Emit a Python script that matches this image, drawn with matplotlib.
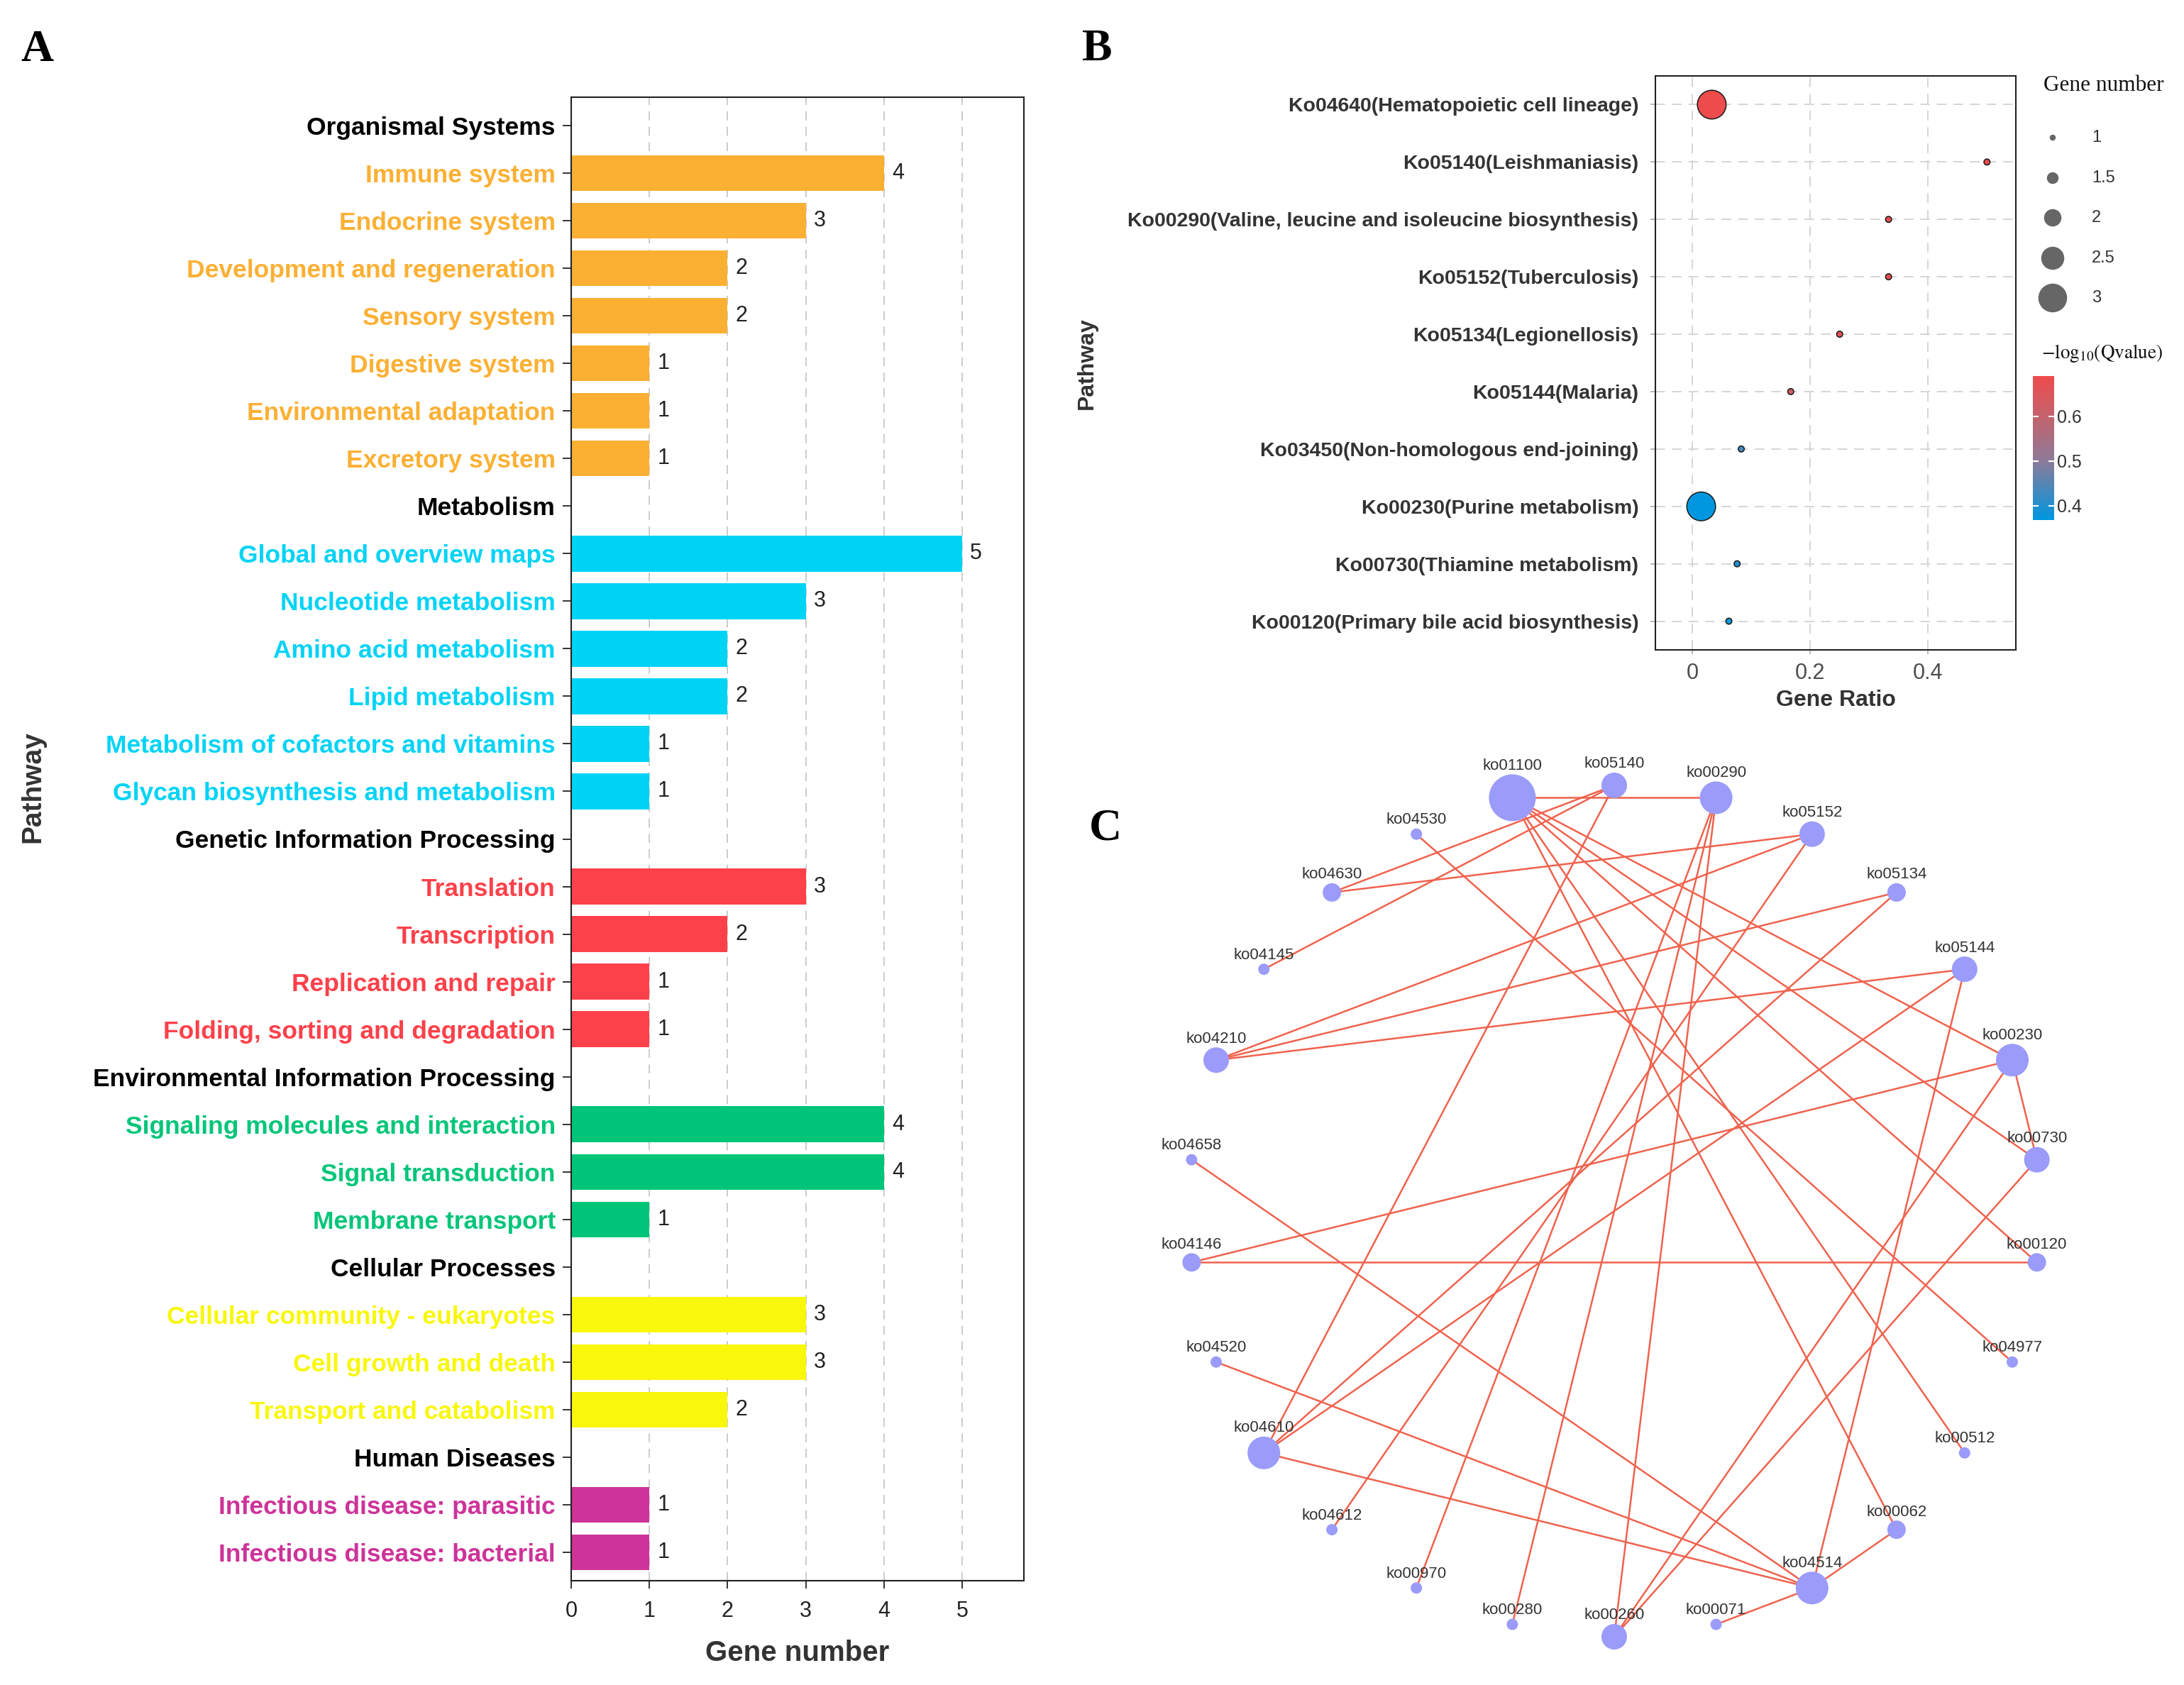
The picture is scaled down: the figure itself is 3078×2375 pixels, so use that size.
import matplotlib
matplotlib.use('Agg')
import matplotlib.pyplot as plt
import numpy as np
from matplotlib.colors import LinearSegmentedColormap, Normalize

plt.rcParams['font.family'] = ['Liberation Sans', 'DejaVu Sans']
plt.rcParams['mathtext.fontset'] = 'stix'

# ------------------------------------------------------------------ data A
group_names = ['Organismal Systems', 'Metabolism', 'Genetic Information Processing',
               'Environmental Information Processing', 'Cellular Processes', 'Human Diseases']
group_colors = ['#FBB034', '#00D3F6', '#FD414A', '#00C579', '#F8F70C', '#CD3399']
organismal_terms = ['Immune system', 'Endocrine system', 'Development and regeneration',
                    'Sensory system', 'Digestive system', 'Environmental adaptation',
                    'Excretory system']
organismal_counts = [4, 3, 2, 2, 1, 1, 1]
metabolism_terms = ['Global and overview maps', 'Nucleotide metabolism', 'Amino acid metabolism',
                    'Lipid metabolism', 'Metabolism of cofactors and vitamins',
                    'Glycan biosynthesis and metabolism']
metabolism_counts = [5, 3, 2, 2, 1, 1]
genetic_terms = ['Translation', 'Transcription', 'Replication and repair',
                 'Folding, sorting and degradation']
genetic_counts = [3, 2, 1, 1]
env_terms = ['Signaling molecules and interaction', 'Signal transduction', 'Membrane transport']
env_counts = [4, 4, 1]
cellular_terms = ['Cellular community - eukaryotes', 'Cell growth and death',
                  'Transport and catabolism']
cellular_counts = [3, 3, 2]
disease_terms = ['Infectious disease: parasitic', 'Infectious disease: bacterial']
disease_counts = [1, 1]
group_terms = [organismal_terms, metabolism_terms, genetic_terms, env_terms, cellular_terms, disease_terms]
group_counts = [organismal_counts, metabolism_counts, genetic_counts, env_counts, cellular_counts, disease_counts]
xticks_A = [0, 1, 2, 3, 4, 5]

# ------------------------------------------------------------------ data B
pathways_B = ['Ko04640(Hematopoietic cell lineage)', 'Ko05140(Leishmaniasis)',
              'Ko00290(Valine, leucine and isoleucine biosynthesis)', 'Ko05152(Tuberculosis)',
              'Ko05134(Legionellosis)', 'Ko05144(Malaria)', 'Ko03450(Non-homologous end-joining)',
              'Ko00230(Purine metabolism)', 'Ko00730(Thiamine metabolism)',
              'Ko00120(Primary bile acid biosynthesis)']
gene_ratio = [0.033, 0.5, 0.333, 0.333, 0.25, 0.167, 0.083, 0.015, 0.076, 0.062]
gene_number = [3, 1, 1, 1, 1, 1, 1, 3, 1, 1]
neglog_q = [0.69, 0.69, 0.68, 0.68, 0.665, 0.625, 0.43, 0.37, 0.40, 0.38]
q_range = [0.368, 0.69]
q_ticks = [0.4, 0.5, 0.6]
size_legend = [1, 1.5, 2, 2.5, 3]
xticks_B = [0, 0.2, 0.4]

# ------------------------------------------------------------------ data C
node_names = ['ko05140', 'ko00290', 'ko05152', 'ko05134', 'ko05144', 'ko00230', 'ko00730',
              'ko00120', 'ko04977', 'ko00512', 'ko00062', 'ko04514', 'ko00071', 'ko00260',
              'ko00280', 'ko00970', 'ko04612', 'ko04610', 'ko04520', 'ko04146', 'ko04658',
              'ko04210', 'ko04145', 'ko04630', 'ko04530', 'ko01100']
node_weight = [3, 4, 3, 2, 3, 4, 3, 2, 1, 1, 2, 4, 1, 3, 1, 1, 1, 4, 1, 2, 1, 3, 1, 2, 1, 6]
edges = [('ko01100', 'ko00290'), ('ko01100', 'ko00230'), ('ko01100', 'ko00730'),
         ('ko01100', 'ko00120'), ('ko01100', 'ko00512'), ('ko01100', 'ko00062'),
         ('ko05140', 'ko04630'), ('ko05140', 'ko04145'), ('ko05140', 'ko04610'),
         ('ko00290', 'ko00970'), ('ko00290', 'ko00280'), ('ko00290', 'ko00260'),
         ('ko05152', 'ko04630'), ('ko05152', 'ko04210'), ('ko05152', 'ko04612'),
         ('ko05134', 'ko04210'), ('ko05134', 'ko04610'),
         ('ko05144', 'ko04210'), ('ko05144', 'ko04610'), ('ko05144', 'ko04514'),
         ('ko00230', 'ko04146'), ('ko00230', 'ko00730'), ('ko00230', 'ko00260'),
         ('ko00730', 'ko00260'), ('ko00120', 'ko04146'), ('ko04530', 'ko04977'),
         ('ko04514', 'ko00062'), ('ko04514', 'ko00071'), ('ko04514', 'ko04610'),
         ('ko04514', 'ko04520'), ('ko04514', 'ko04658')]

# ------------------------------------------------------------------ figure
W, H, DPI = 3078, 2375, 100
fig = plt.figure(figsize=(W / DPI, H / DPI), dpi=DPI)
fig.patch.set_facecolor('white')

def fx(px):
    return px / W

def fy(py):
    return 1 - py / H

# overlay axes in pixel coordinates (panel letters, network)
ov = fig.add_axes([0, 0, 1, 1])
ov.set_xlim(0, W)
ov.set_ylim(H, 0)
ov.axis('off')

serif = ['Liberation Serif', 'DejaVu Serif']
for letter, (lx, ly) in zip(['A', 'B', 'C'], [(29, 86), (1525, 85), (1535, 1184)]):
    ov.text(lx, ly, letter, fontsize=46, fontweight='bold', family=serif,
            ha='left', va='baseline')

# ------------------------------------------------------------------ panel A
axA = fig.add_axes([fx(805), fy(2228), fx(1443 - 805), (2228 - 137) / H])
labels, values, colors, lab_colors = [], [], [], []
for gname, gcol, terms, counts in zip(group_names, group_colors, group_terms, group_counts):
    labels.append(gname); values.append(np.nan); colors.append(gcol); lab_colors.append('black')
    for t, c in zip(terms, counts):
        labels.append(t); values.append(c); colors.append(gcol); lab_colors.append(gcol)
pos = np.arange(len(labels))
vals = np.array(values, dtype=float)
for x in xticks_A[1:]:
    axA.axvline(x, color='#C8C8C8', lw=1.3, dashes=(7, 5), zorder=0)
axA.barh(pos, np.nan_to_num(vals), height=0.75, color=colors, zorder=2)
for p, v in zip(pos, vals):
    if not np.isnan(v):
        axA.annotate(f'{int(v)}', (v, p), xytext=(8, 0), textcoords='offset points',
                     ha='left', va='center', fontsize=22, color='#222222')
axA.set_ylim(len(labels) - 0.4, -0.6)
axA.set_xlim(0, 5.79)
axA.set_xticks(xticks_A)
axA.set_yticks(pos)
axA.set_yticklabels(labels, fontsize=25.5, fontweight='bold')
for tl, c in zip(axA.get_yticklabels(), lab_colors):
    tl.set_color(c)
axA.tick_params(axis='y', length=9, width=1.4, color='#333333', pad=7)
axA.tick_params(axis='x', length=8, width=1.4, color='#333333', pad=12, labelsize=22,
                labelcolor='#222222')
for s in axA.spines.values():
    s.set_linewidth(1.5)
    s.set_color('#222222')
axA.set_xlabel('Gene number', fontsize=29, fontweight='bold', color='#333333')
axA.xaxis.label.set_va('center')
axA.xaxis.set_label_coords(0.5, (2228 - 2330) / (2228 - 137))
axA.set_ylabel('Pathway', fontsize=28, fontweight='bold', color='#333333')
axA.yaxis.label.set_va('center')
axA.yaxis.set_label_coords((46 - 805) / (1443 - 805), (2228 - 1109) / (2228 - 137))

# ------------------------------------------------------------------ panel B
axB = fig.add_axes([fx(2333), fy(916), fx(2841 - 2333), (916 - 107) / H])
cmap = LinearSegmentedColormap.from_list(
    'q', [(0.0, '#0096E1'), (0.41, '#8C7B98'), (0.72, '#C4636E'), (1.0, '#EE4B4C')])
norm = Normalize(vmin=q_range[0], vmax=q_range[1])

def size_pts(v):
    d = 8.5 + 16.0 * (np.asarray(v, dtype=float) - 1)  # pixel diameter
    return (d * 72 / DPI) ** 2

yb = np.arange(len(pathways_B))
axB.set_axisbelow(True)
axB.grid(True, color='#D5D5D5', lw=1.4, dashes=(7, 5))
sc = axB.scatter(gene_ratio, yb, s=size_pts(gene_number), c=neglog_q, cmap=cmap, norm=norm,
                 edgecolors='#1a1a1a', linewidths=1.1, zorder=3)
axB.set_ylim(len(pathways_B) - 0.5, -0.5)
axB.set_xlim(-0.0627, 0.549)
axB.set_xticks(xticks_B)
axB.set_xticklabels(['0', '0.2', '0.4'])
axB.set_yticks(yb)
axB.set_yticklabels(pathways_B, fontsize=20.5, fontweight='bold', color='#333333')
axB.tick_params(axis='y', length=5, width=1.2, color='#AAAAAA', pad=12)
axB.tick_params(axis='x', length=4, width=1.2, color='#AAAAAA', pad=9, labelsize=22,
                labelcolor='#4D4D4D')
for s in axB.spines.values():
    s.set_linewidth(1.5)
    s.set_color('#222222')
axB.set_xlabel('Gene Ratio', fontsize=23, fontweight='bold', color='#333333')
axB.xaxis.label.set_va('center')
axB.xaxis.set_label_coords(0.5, (916 - 987) / (916 - 107))
axB.set_ylabel('Pathway', fontsize=23, fontweight='bold', color='#333333')
axB.yaxis.label.set_va('center')
axB.yaxis.set_label_coords((1532 - 2333) / (2841 - 2333), (916 - 512) / (916 - 107))

# size legend
ov.text(2880, 120, 'Gene number', fontsize=22.5, family=serif, ha='left', va='center',
        color='#111111')
leg_y = [194, 251, 307, 364, 420]
ov.scatter([2893] * len(size_legend), leg_y, s=size_pts(size_legend), color='#666666',
           edgecolors='none', zorder=3)
for yy, v in zip(leg_y, size_legend):
    ov.text(2948, yy, f'{v:g}', fontsize=17, ha='left', va='center', color='#333333')

# colour bar
ov.text(2877, 498, r'$\mathrm{-log_{10}(Qvalue)}$', fontsize=19.5, ha='left', va='center',
        color='#111111')
cax = fig.add_axes([fx(2865), fy(733), fx(30), (733 - 530) / H])
cb = fig.colorbar(sc, cax=cax, ticks=q_ticks)
cb.outline.set_visible(False)
cax.tick_params(axis='y', direction='in', color='white', length=6, width=1.5,
                left=True, right=True, labelleft=False, labelright=True, labelsize=18,
                labelcolor='#333333', pad=3)
cax.set_yticklabels([f'{t:g}' for t in q_ticks])

# ------------------------------------------------------------------ panel C (network)
cx, cy, R = 2275, 1707, 600
n = len(node_names)
ang = np.deg2rad(90 - np.arange(n) * 360 / n)
nx = cx + R * np.cos(ang)
ny = cy - R * np.sin(ang)
pos_map = {name: (x, y) for name, x, y in zip(node_names, nx, ny)}
for a, b in edges:
    (x1, y1), (x2, y2) = pos_map[a], pos_map[b]
    ov.plot([x1, x2], [y1, y2], color='#F0624D', lw=1.8, zorder=2, solid_capstyle='round')
diam = 6 + 10 * np.array(node_weight, dtype=float)
ov.scatter(nx, ny, s=(diam * 72 / DPI) ** 2, color='#9B9BFA', edgecolors='none', zorder=3)
for name, x, y, d in zip(node_names, nx, ny, diam):
    ov.text(x, y - d / 2 - 12, name, fontsize=16, ha='center', va='center',
            color='#333333', zorder=4)

fig.savefig('out.png', dpi=DPI, facecolor='white')
